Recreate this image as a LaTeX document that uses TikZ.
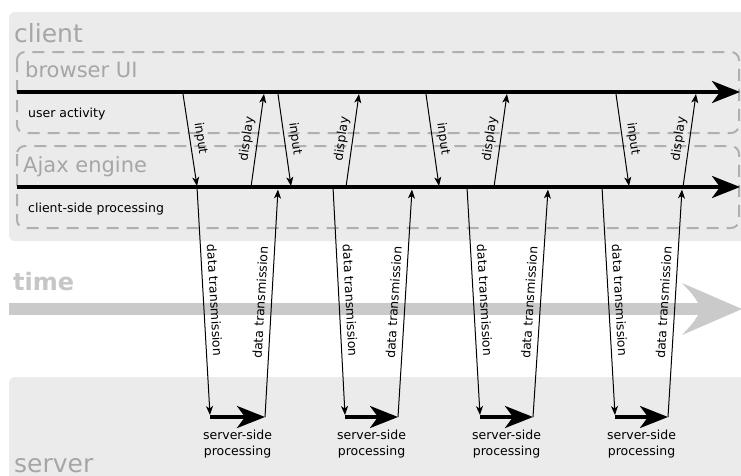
\documentclass[tikz,border=0pt]{standalone}
\usepackage{fontspec}
\setmainfont{DejaVu Sans}
\usetikzlibrary{arrows.meta}
\definecolor{panelgray}{HTML}{EBEBEB}
\definecolor{dashgray}{HTML}{B0B0B0}
\definecolor{titlegray}{HTML}{A6A6A6}
\definecolor{timegray}{HTML}{C6C6C6}
\definecolor{bandgray}{HTML}{CACACA}
\tikzset{
  panel/.style={fill=panelgray, draw=none, rounded corners=6pt},
  lanebox/.style={draw=dashgray, line width=2pt, dash pattern=on 12pt off 8pt, rounded corners=8pt},
  bigarrow/.style={line width=3.6pt, -{Stealth[length=28pt,width=22pt,inset=8pt]}},
  thinarrow/.style={line width=1pt, -{Stealth[length=9pt,width=7pt,inset=2.5pt]}},
  smalltext/.style={font=\fontsize{12.5}{16}\selectfont, inner sep=0pt},
  lbl/.style={smalltext, midway, sloped, above=4pt},
  title/.style={text=titlegray, inner sep=0pt, anchor=base west}
}
\begin{document}
\begin{tikzpicture}[x=1pt,y=-1pt]
\useasboundingbox (0,0) rectangle (741,475);
\clip (0,0) rectangle (741,475);
\fill[white] (0,0) rectangle (741,475);
% panels
\path[panel] (9,12) rectangle (760,241);
\path[panel] (9,377) rectangle (760,490);
% dashed lanes
\draw[lanebox] (17,52) rectangle (739,133);
\draw[lanebox] (17,146) rectangle (739,228);
% titles
\node[title, font=\fontsize{25}{30}\selectfont] (client) at (14,42) {client};
\node[title, font=\fontsize{21}{25}\selectfont] (bui) at (25,77) {browser UI};
\node[title, font=\fontsize{21}{25}\selectfont] (ajax) at (23,172) {Ajax engine};
\node[title, font=\fontsize{25}{30}\selectfont] (server) at (14,472) {server};
\node[title, text=timegray, font=\fontsize{24}{28}\bfseries] (time) at (13,290) {time};
% time band
\coordinate (tA) at (9,309);
\coordinate (tB) at (702,309);
\draw[bandgray, line width=12pt] (tA) -- (tB);
\fill[bandgray] (742,309) -- (682,283) .. controls (695,297) .. (701,309) .. controls (695,321) .. (682,335) -- cycle;
% main timelines
\coordinate (uaA) at (17,92);
\coordinate (uaB) at (740,92);
\coordinate (csA) at (17,187);
\coordinate (csB) at (740,187);
\draw[bigarrow] (uaA) -- (uaB);
\draw[bigarrow] (csA) -- (csB);
\node[smalltext, anchor=base west] (ualbl) at (28,117) {user activity};
\node[smalltext, anchor=base west] (cslbl) at (28,212) {client-side processing};
% cycles
\foreach \i/\xa/\xb/\xc/\xd/\xe/\xf/\xg/\xh in {1/183/197/251/264/197/210/265/278, 2/278/291/346/359/333/345/398/412, 3/426/439/494/507/467/480/533/548, 4/616/629/683/696/602/615/668/682}{
  \coordinate (inA\i) at (\xa,94);
  \coordinate (inB\i) at (\xb,186);
  \coordinate (diA\i) at (\xc,187);
  \coordinate (diB\i) at (\xd,94);
  \coordinate (dtA\i) at (\xe,187);
  \coordinate (dtB\i) at (\xf,415);
  \coordinate (svA\i) at (\xf,417);
  \coordinate (svB\i) at (\xg,417);
  \coordinate (upB\i) at (\xh,189.5);
  \draw[thinarrow] (inA\i) -- node[lbl] (inL\i) {input} (inB\i);
  \draw[thinarrow] (diA\i) -- node[lbl] (diL\i) {display} (diB\i);
  \draw[thinarrow] (dtA\i) -- node[lbl, above=2pt] (dtL\i) {data transmission} (dtB\i);
  \draw[thinarrow] (svB\i) -- node[lbl, above=2pt] (upL\i) {data transmission} (upB\i);
  \draw[bigarrow] (svA\i) -- (svB\i);
  \node[smalltext, align=center] (svL\i) at ({(\xf+\xg)/2},444) {server-side\\processing};
}
\end{tikzpicture}
\end{document}
